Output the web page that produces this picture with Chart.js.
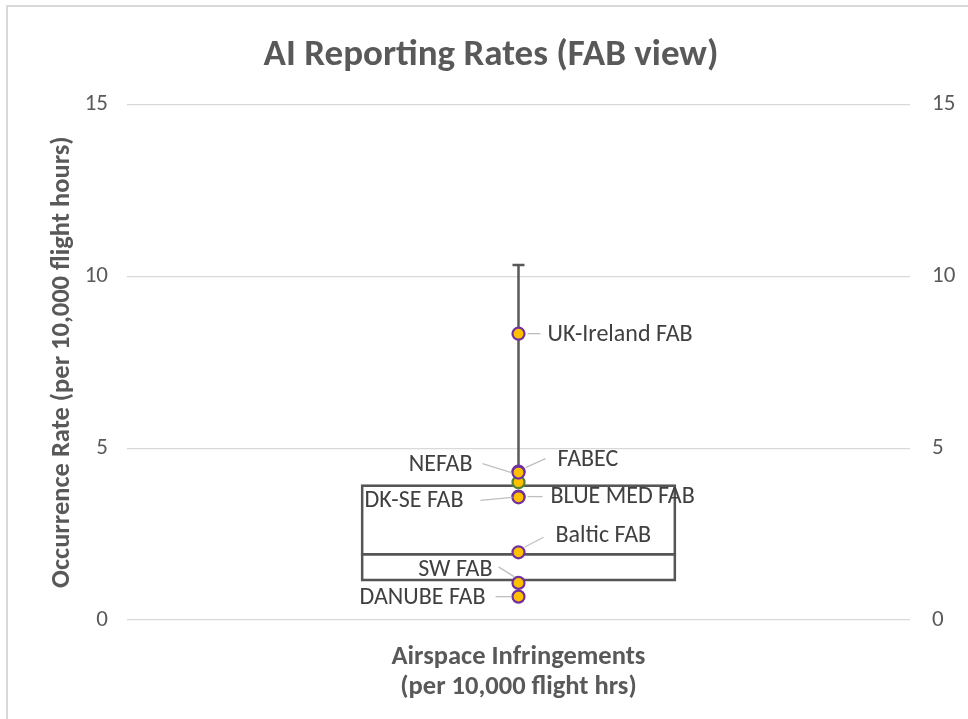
<!DOCTYPE html>
<html>
<head>
<meta charset="utf-8">
<script src="https://cdn.jsdelivr.net/npm/chart.js@4/dist/chart.umd.min.js"></script>
<style>
  html, body { margin: 0; padding: 0; background: #fff; }
  #wrap { position: relative; width: 968px; height: 719px; }
  #frame { position: absolute; left: 6px; top: 5px; right: 0; bottom: 0;
           border-left: 2px solid #d9d9d9; border-top: 2px solid #d9d9d9; }
  canvas { position: absolute; left: 0; top: 0; }
</style>
</head>
<body>
<div id="wrap">
  <div id="frame"></div>
  <canvas id="chart" width="968" height="719"></canvas>
</div>
<script>
// category and box statistics
const category = "Airspace Infringements";
const boxLow = 1.12;
const boxMedian = 1.95;
const boxHigh = 3.95;
const whiskerTop = 10.33;

// individual FAB rates
const fabNames = ["UK-Ireland FAB", "NEFAB", "FABEC", "BLUE MED FAB", "DK-SE FAB", "Baltic FAB", "SW FAB", "DANUBE FAB"];
const fabRates = [8.33, 4.32, 4.29, 3.59, 3.57, 1.97, 1.08, 0.68];
const extraRate = 4.01; // unlabelled green marker

const yTicks = [0, 5, 10, 15];

// label placement (pixel offsets from the point) and leader line ends
const labelPlacement = [
  { dx: 29, dy: 1, align: "left", lx1: 9, ly1: 0, lx2: 22, ly2: 0 },
  { dx: -46, dy: -7, align: "right", lx1: -36, ly1: -8, lx2: -7, ly2: 1 },
  { dx: 39, dy: -13, align: "left", lx1: 7, ly1: -5, lx2: 27, ly2: -14 },
  { dx: 32, dy: 0, align: "left", lx1: 9, ly1: 0, lx2: 24, ly2: 0 },
  { dx: -55, dy: 4, align: "right", lx1: -38, ly1: 3, lx2: -6, ly2: 0 },
  { dx: 37, dy: -16, align: "left", lx1: 6, ly1: -5, lx2: 25, ly2: -15 },
  { dx: -26, dy: -13, align: "right", lx1: -20, ly1: -16, lx2: -4, ly2: -6 },
  { dx: -33, dy: 1, align: "right", lx1: -23, ly1: 0, lx2: -7, ly2: 0 }
];

const grey = "#595959";
const font = "Calibri, Carlito, Lato, 'Open Sans', sans-serif";

const pointLabels = {
  id: "pointLabels",
  afterDatasetsDraw(chart) {
    const meta = chart.getDatasetMeta(4);
    const ctx = chart.ctx;
    ctx.save();
    ctx.font = "24px " + font;
    ctx.textBaseline = "middle";
    meta.data.forEach((pt, i) => {
      const p = labelPlacement[i];
      ctx.strokeStyle = "#bfbfbf";
      ctx.lineWidth = 1.3;
      ctx.beginPath();
      ctx.moveTo(pt.x + p.lx1, pt.y + p.ly1);
      ctx.lineTo(pt.x + p.lx2, pt.y + p.ly2);
      ctx.stroke();
      ctx.fillStyle = "#404040";
      ctx.textAlign = p.align;
      ctx.fillText(fabNames[i], pt.x + p.dx, pt.y + p.dy);
    });
    ctx.restore();
  }
};

const barCommon = {
  type: "bar",
  backgroundColor: "rgba(255,255,255,0)",
  borderColor: "#555555",
  borderSkipped: false,
  grouped: false,
  categoryPercentage: 1,
  barPercentage: 0.403,
  order: 5
};

new Chart(document.getElementById("chart"), {
  data: {
    labels: [category],
    datasets: [
      // whole box
      Object.assign({ data: [[boxLow, boxHigh]], borderWidth: 2.7 }, barCommon),
      // lower half: only its top edge is drawn, giving the median line
      Object.assign({ data: [[boxLow, boxMedian]], borderWidth: { top: 2.7, bottom: 0, left: 0, right: 0 } }, barCommon),
      {
        type: "line",
        data: [{ x: category, y: boxHigh }, { x: category, y: whiskerTop }],
        borderColor: grey,
        borderWidth: 2.5,
        pointStyle: "line",
        pointRadius: [0, 6],
        pointBorderColor: grey,
        pointBorderWidth: 2.5,
        order: 4
      },
      {
        type: "line",
        data: [{ x: category, y: extraRate }],
        showLine: false,
        pointRadius: 6,
        pointBackgroundColor: "#ffc000",
        pointBorderColor: "#548235",
        pointBorderWidth: 2.2,
        order: 2
      },
      {
        type: "line",
        data: fabRates.map(v => ({ x: category, y: v })),
        showLine: false,
        pointRadius: 6,
        pointBackgroundColor: "#ffc000",
        pointBorderColor: "#7030a0",
        pointBorderWidth: 2.2,
        order: 1
      }
    ]
  },
  options: {
    responsive: false,
    animation: false,
    layout: { padding: { left: 14, right: 0, top: 20, bottom: 10 } },
    plugins: {
      legend: { display: false },
      tooltip: { enabled: false },
      title: {
        display: true,
        text: "AI Reporting Rates (FAB view)",
        color: grey,
        font: { family: font, size: 37, weight: "bold" },
        padding: { top: 14, bottom: 26 }
      }
    },
    scales: {
      x: {
        type: "category",
        offset: true,
        grid: { display: false },
        border: { display: false },
        ticks: { display: false },
        title: {
          display: true,
          text: ["Airspace Infringements", "(per 10,000 flight hrs)"],
          color: grey,
          font: { family: font, size: 26.5, weight: "bold", lineHeight: 1.15 },
          padding: { top: 20, bottom: 6 }
        },
        afterFit(scale) { scale.height = 89; }
      },
      y: {
        position: "left",
        min: 0,
        max: 15,
        afterBuildTicks(scale) { scale.ticks = yTicks.map(v => ({ value: v })); },
        grid: { color: "#d9d9d9", lineWidth: 1.2, drawTicks: false },
        border: { display: false },
        ticks: { color: grey, font: { family: font, size: 23 }, padding: 19 },
        title: {
          display: true,
          text: "Occurrence Rate (per 10,000 flight hours)",
          color: grey,
          font: { family: font, size: 26.5, weight: "bold" },
          padding: { top: 32, bottom: 4 }
        },
        afterFit(scale) { scale.width = 113; }
      },
      y2: {
        position: "right",
        min: 0,
        max: 15,
        afterBuildTicks(scale) { scale.ticks = yTicks.map(v => ({ value: v })); },
        grid: { display: false, drawTicks: false },
        border: { display: false },
        ticks: { color: grey, font: { family: font, size: 23 }, padding: 22 },
        afterFit(scale) { scale.width = 58; }
      }
    }
  },
  plugins: [pointLabels]
});
</script>
</body>
</html>
